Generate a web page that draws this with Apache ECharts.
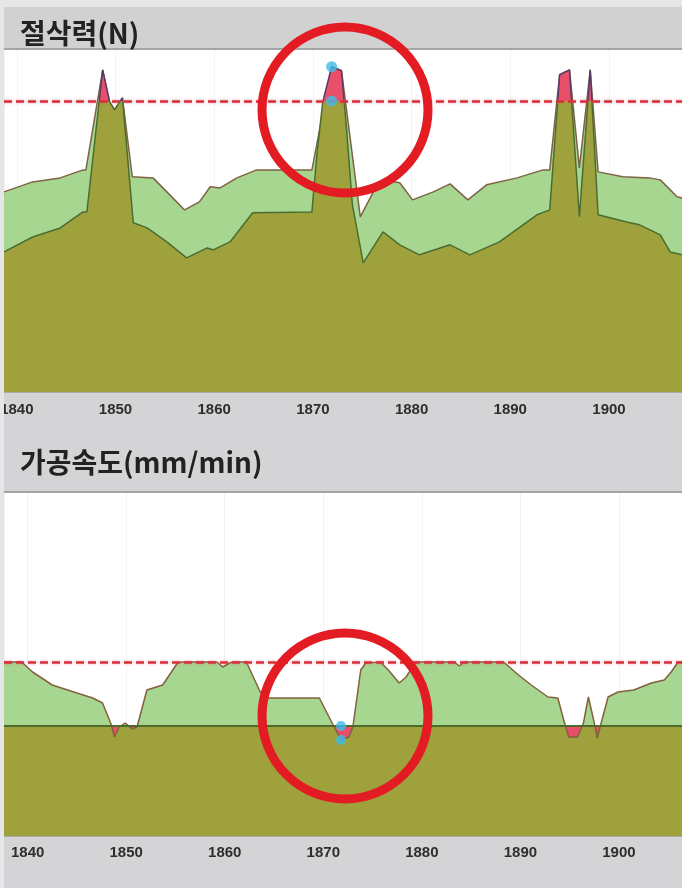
<!DOCTYPE html>
<html>
<head>
<meta charset="utf-8">
<script src="https://cdn.jsdelivr.net/npm/echarts@6.0.0/dist/echarts.min.js"></script>
<style>
  html, body { margin: 0; padding: 0; background: #e5e6e8; }
  #chart { width: 682px; height: 888px; }
</style>
</head>
<body>
<div id="chart"></div>
<script>
// 절삭력 (N) : [year, value]
const forcePoints = [
  [1838.7, 770], [1841.6, 852], [1844.4, 902], [1846.7, 990], [1847.1, 990],
  [1848.7, 1771], [1849.4, 1595], [1849.9, 1551], [1850.7, 1617], [1851.8, 930],
  [1853.2, 902], [1855.2, 825], [1857.2, 737], [1859.3, 792], [1859.9, 781],
  [1861.6, 825], [1863.9, 985], [1869.9, 990], [1870.4, 1304], [1871.0, 1595],
  [1871.9, 1788], [1872.9, 1766], [1873.4, 1452], [1874.0, 1029], [1875.1, 710],
  [1877.1, 880], [1878.8, 809], [1880.8, 754], [1883.9, 809], [1885.9, 754],
  [1888.9, 825], [1892.7, 974], [1894.0, 1001], [1895.0, 1744], [1896.0, 1771],
  [1897.0, 963], [1898.1, 1771], [1898.9, 974], [1901.8, 935], [1903.1, 919],
  [1905.2, 864], [1906.2, 770], [1907.4, 754]
];
// 상한 밴드
const upperPoints = [
  [1838.7, 1100], [1841.6, 1155], [1844.4, 1177], [1846.7, 1221], [1847.0, 1221],
  [1848.7, 1771], [1849.4, 1595], [1849.9, 1551], [1850.7, 1617], [1851.7, 1183],
  [1853.8, 1177], [1855.2, 1100], [1857.0, 1001], [1858.5, 1045], [1859.6, 1128],
  [1860.6, 1122], [1862.3, 1177], [1864.3, 1221], [1869.9, 1221], [1871.9, 1788],
  [1872.9, 1766], [1874.8, 963], [1876.5, 1139], [1877.1, 1166], [1878.8, 1150],
  [1880.1, 1056], [1882.2, 1100], [1883.9, 1144], [1885.7, 1056], [1887.6, 1139],
  [1890.7, 1177], [1893.3, 1221], [1894.0, 1221], [1895.0, 1744], [1896.0, 1771],
  [1897.0, 1232], [1898.1, 1771], [1898.9, 1210], [1901.4, 1183], [1904.1, 1177],
  [1905.2, 1166], [1906.9, 1073], [1907.4, 1067]
];
// 가공속도 (mm/min)
const speedPoints = [
  [1837.6, 870], [1839.4, 870], [1840.5, 820], [1842.5, 755], [1845.0, 715],
  [1846.6, 690], [1847.6, 665], [1848.5, 555], [1848.8, 495], [1849.3, 545],
  [1849.9, 565], [1850.6, 535], [1851.1, 545], [1852.1, 730], [1853.7, 755],
  [1855.2, 865], [1855.6, 870], [1859.2, 870], [1859.8, 845], [1860.5, 865],
  [1860.8, 870], [1862.2, 870], [1863.6, 720], [1864.4, 690], [1869.6, 690],
  [1871.0, 555], [1871.8, 480], [1872.6, 495], [1873.0, 545], [1873.8, 830],
  [1874.3, 865], [1875.8, 870], [1876.6, 830], [1877.7, 765], [1878.4, 795],
  [1879.4, 870], [1883.3, 870], [1883.8, 850], [1884.3, 870], [1888.3, 870],
  [1889.8, 805], [1891.1, 755], [1892.8, 695], [1893.8, 690], [1894.4, 580],
  [1894.9, 495], [1895.8, 495], [1896.4, 565], [1896.9, 695], [1897.5, 565],
  [1897.8, 490], [1898.2, 565], [1898.9, 695], [1899.9, 720], [1901.5, 730],
  [1903.3, 765], [1904.6, 780], [1905.3, 820], [1906.0, 870], [1906.4, 870]
];

const cutThreshold = 1600;
const speedUpper = 870;
const speedLower = 550;
const forceYearRange = [1838.7, 1907.4];
const speedYearRange = [1837.6, 1906.4];
const forceAlarm = [[1871.9, 1788], [1871.9, 1600]];
const speedAlarm = [[1871.8, 550], [1871.8, 480]];

const olive = '#9ea13c';
const lightGreen = '#a7d690';
const alarmRed = '#e8506a';
const cyan = '#3dbde6';

let chart = echarts.init(document.getElementById('chart'));

function yearAxis(gridIndex, range, margin) {
  return {
    type: 'value',
    gridIndex: gridIndex,
    min: range[0],
    max: range[1],
    axisLine: {show: true, lineStyle: {color: '#a9a9a9', width: 2}},
    axisTick: {show: false},
    splitLine: {show: true, lineStyle: {color: '#f3f3f3', width: 1}},
    axisLabel: {
      showMinLabel: false,
      showMaxLabel: false,
      formatter: (v) => (Math.abs(v % 10) < 1e-6 ? String(Math.round(v)) : ''),
      color: '#2e2e2e',
      fontSize: 15,
      fontWeight: 'bold',
      fontFamily: 'Liberation Sans',
      margin: margin
    }
  };
}

function dashedLimit(value) {
  return {
    silent: true,
    symbol: ['none', 'none'],
    label: {show: false},
    lineStyle: {color: '#d8303c', type: [8, 4], width: 2.5, shadowColor: 'rgba(232,80,106,0.6)', shadowBlur: 3},
    data: [{yAxis: value}]
  };
}

// 경계가 유한해야 gradient가 만들어짐
function splitPieces(limit, below, above) {
  return [{gte: 0, lt: limit, color: below}, {gte: limit, lte: 100000, color: above}];
}

chart.setOption({
  animation: false,
  backgroundColor: '#d4d4d6',
  graphic: [
    {type: 'rect', z: 50, shape: {x: 0, y: 0, width: 682, height: 7}, style: {fill: '#e5e6e8'}},
    {type: 'rect', z: 50, shape: {x: 0, y: 0, width: 4, height: 888}, style: {fill: '#e5e6e8'}},
    {type: 'rect', shape: {x: 4, y: 7, width: 678, height: 42}, style: {fill: '#d1d1d1'}},
    {type: 'line', shape: {x1: 4, y1: 49, x2: 682, y2: 49}, style: {stroke: '#a5a5a5', lineWidth: 2}},
    {type: 'line', shape: {x1: 4, y1: 492, x2: 682, y2: 492}, style: {stroke: '#a5a5a5', lineWidth: 2}},
    {type: 'text', x: 20, y: 33, style: {text: '절삭력(N)', font: 'bold 28px "Noto Sans CJK KR"', fill: '#222', verticalAlign: 'middle'}},
    {type: 'text', x: 20, y: 462, style: {text: '가공속도(mm/min)', font: 'bold 28px "Noto Sans CJK KR"', fill: '#222', verticalAlign: 'middle'}},
    // 빨간 원 표시
    {type: 'circle', z: 100, shape: {cx: 345, cy: 110, r: 83}, style: {fill: 'transparent', stroke: '#e31b23', lineWidth: 9}},
    {type: 'circle', z: 100, shape: {cx: 345, cy: 716, r: 83}, style: {fill: 'transparent', stroke: '#e31b23', lineWidth: 9}}
  ],
  grid: [
    {left: 4, right: 0, top: 50, height: 342, outerBoundsMode: 'none', show: true, backgroundColor: '#fff', borderWidth: 0},
    {left: 4, right: 0, top: 493, height: 343, outerBoundsMode: 'none', show: true, backgroundColor: '#fff', borderWidth: 0}
  ],
  xAxis: [yearAxis(0, forceYearRange, 10), yearAxis(1, speedYearRange, 9)],
  yAxis: [
    {type: 'value', gridIndex: 0, min: 0, max: 1880, show: false},
    {type: 'value', gridIndex: 1, min: 0, max: 1715, show: false}
  ],
  visualMap: [
    {show: false, type: 'piecewise', seriesIndex: 1, dimension: 1, pieces: splitPieces(cutThreshold, olive, alarmRed)},
    {show: false, type: 'piecewise', seriesIndex: 2, dimension: 1, pieces: splitPieces(cutThreshold, '#4a6d2f', '#57396c')},
    {show: false, type: 'piecewise', seriesIndex: 5, dimension: 1, pieces: splitPieces(speedLower, alarmRed, lightGreen)}
  ],
  series: [
    {
      type: 'line', xAxisIndex: 0, yAxisIndex: 0, data: upperPoints, symbol: 'none', silent: true, z: 2,
      lineStyle: {color: '#7f6246', width: 1.5},
      areaStyle: {color: lightGreen, opacity: 1, origin: 'start'}
    },
    {
      type: 'line', xAxisIndex: 0, yAxisIndex: 0, data: forcePoints, symbol: 'none', silent: true, z: 3,
      lineStyle: {width: 0},
      areaStyle: {opacity: 1, origin: 'start'}
    },
    {
      type: 'line', xAxisIndex: 0, yAxisIndex: 0, data: forcePoints, symbol: 'none', silent: true, z: 4,
      lineStyle: {width: 1.5},
      markLine: dashedLimit(cutThreshold)
    },
    {
      type: 'scatter', xAxisIndex: 0, yAxisIndex: 0, data: forceAlarm, symbolSize: 11, silent: true, z: 6,
      itemStyle: {color: cyan}
    },
    {
      type: 'line', xAxisIndex: 1, yAxisIndex: 1, data: [[speedYearRange[0], speedLower], [speedYearRange[1], speedLower]],
      symbol: 'none', silent: true, z: 2,
      lineStyle: {width: 0},
      areaStyle: {color: olive, opacity: 1, origin: 'start'}
    },
    {
      type: 'line', xAxisIndex: 1, yAxisIndex: 1, data: speedPoints, symbol: 'none', silent: true, z: 3,
      lineStyle: {color: '#83603f', width: 1.5},
      areaStyle: {opacity: 1, origin: speedLower},
      markLine: dashedLimit(speedUpper)
    },
    {
      type: 'line', xAxisIndex: 1, yAxisIndex: 1, data: [[speedYearRange[0], speedLower], [speedYearRange[1], speedLower]],
      symbol: 'none', silent: true, z: 4,
      lineStyle: {color: '#4b6a2c', width: 2}
    },
    {
      type: 'scatter', xAxisIndex: 1, yAxisIndex: 1, data: speedAlarm, symbolSize: 10, silent: true, z: 6,
      itemStyle: {color: cyan}
    }
  ]
});
</script>
</body>
</html>
